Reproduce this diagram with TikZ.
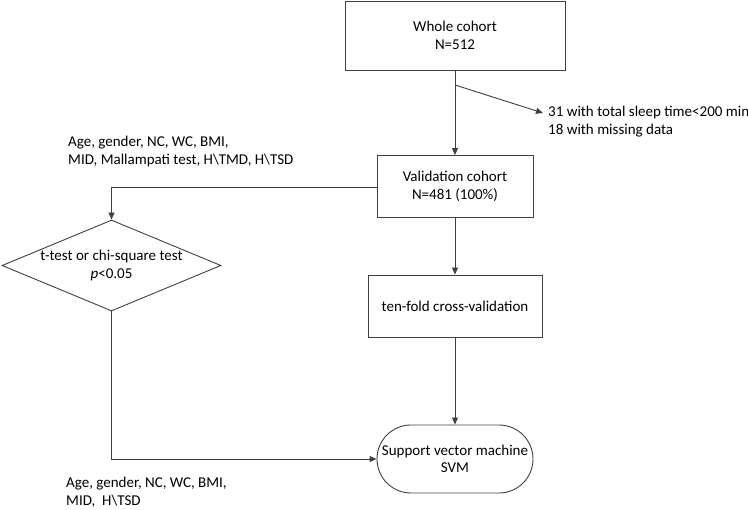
\documentclass[tikz,border=0pt]{standalone}
\usepackage{fontspec}
\setmainfont{Carlito}
\usetikzlibrary{shapes.geometric,shapes.misc,arrows.meta}
\begin{document}
\begin{tikzpicture}[x=1pt,y=-1pt,
  every node/.style={font=\fontsize{15}{17.5}\selectfont, align=center, inner sep=0pt},
  box/.style={draw=black!75, line width=0.9pt, rectangle, minimum width=#1},
  conn/.style={draw=black!75, line width=0.9pt, -{Triangle[length=7pt,width=6pt]}},
  lbl/.style={align=left, anchor=north west}]
\useasboundingbox (0,0) rectangle (748,510);
\node[box=220pt, minimum height=69pt] (whole) at (455,35.5) {Whole cohort\\N=512};
\node[box=156pt, minimum height=62pt] (valid) at (455,186.5) {Validation cohort\\N=481 (100\%)};
\node[box=174pt, minimum height=62pt] (tenfold) at (455,306) {ten-fold cross-validation};
\node[draw=black!75, line width=0.9pt, rounded rectangle, minimum width=156pt, minimum height=68pt] (svm) at (455,459) {Support vector machine\\SVM};
\node[draw=black!75, line width=0.9pt, diamond, aspect=2.4, minimum width=219pt, minimum height=91pt] (test) at (111.5,265.5) {t-test or chi-square test\\\textit{p}<0.05};
\coordinate (split) at (455,85);
\coordinate (excl) at (543,113);
\node[lbl, anchor=west] (exc) at (548,121.5) {31 with total sleep time<200 min\\18 with missing data};
\node[lbl, anchor=west] (vars1) at (68,151.5) {Age, gender, NC, WC, BMI,\\MID, Mallampati test, H\textbackslash TMD, H\textbackslash TSD};
\node[lbl, anchor=west] (vars2) at (66,492.5) {Age, gender, NC, WC, BMI,\\MID,\ \ H\textbackslash TSD};
\draw[conn] (whole) -- (valid);
\draw[conn] (split) -- (excl);
\draw[conn] (valid) -- (tenfold);
\draw[conn] (tenfold) -- (svm);
\draw[conn] (valid.west |- 0,187) -| (test.north);
\draw[conn] (test.south) |- (svm.west);
\end{tikzpicture}
\end{document}
